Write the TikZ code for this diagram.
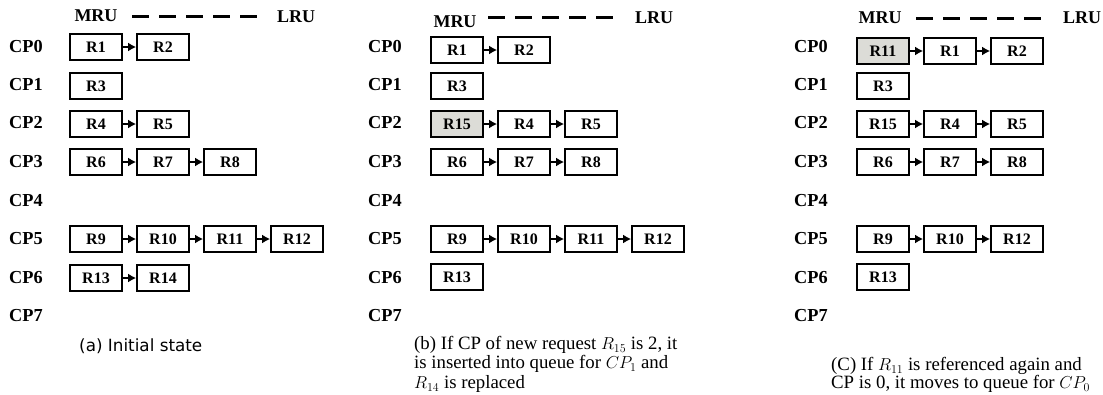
\documentclass[tikz,border=0pt]{standalone}
\usepackage{fontspec}
\setmainfont{Liberation Serif}
\newfontfamily\capsans{DejaVu Sans}
\usetikzlibrary{arrows.meta}
\definecolor{hotgray}{RGB}{220,220,215}
\begin{document}
\begin{tikzpicture}[x=1pt,y=-1pt,
  rbox/.style={draw, line width=1.8pt, minimum width=52pt, minimum height=26pt,
    inner sep=0pt, font=\fontsize{16}{16}\selectfont\bfseries},
  hot/.style={rbox, fill=hotgray},
  cp/.style={anchor=west, inner sep=0pt, font=\fontsize{18.3}{18}\selectfont\bfseries},
  ends/.style={inner sep=0pt, font=\fontsize{18}{18}\selectfont\bfseries},
  order/.style={line width=3pt, dash pattern=on 17pt off 10pt},
  link/.style={line width=1.5pt, -{Latex[length=8pt,width=9pt]}},
  capsf/.style={anchor=west, inner sep=0pt, font=\capsans\fontsize{16.8}{20}\selectfont},
  caprm/.style={anchor=north west, inner sep=0pt, align=left},
]
\useasboundingbox (0,0) rectangle (1103,394);

% ---------- (a) initial state ----------
\node[ends] (mruA) at (96,16) {MRU};
\node[ends] (lruA) at (296,17) {LRU};
\coordinate (dA1) at (132,16);
\coordinate (dA2) at (260,16);
\draw[order] (dA1) -- (dA2);

\node[cp] (cpA0) at (9,47)  {CP0};
\node[cp] (cpA1) at (9,85)  {CP1};
\node[cp] (cpA2) at (9,123) {CP2};
\node[cp] (cpA3) at (9,162) {CP3};
\node[cp] (cpA4) at (9,201) {CP4};
\node[cp] (cpA5) at (9,239) {CP5};
\node[cp] (cpA6) at (9,278) {CP6};
\node[cp] (cpA7) at (9,316) {CP7};

\node[rbox] (a1)  at (96,47)   {R1};
\node[rbox] (a2)  at (163,47)  {R2};
\node[rbox] (a3)  at (96,86)   {R3};
\node[rbox] (a4)  at (96,124)  {R4};
\node[rbox] (a5)  at (163,124) {R5};
\node[rbox] (a6)  at (96,162)  {R6};
\node[rbox] (a7)  at (163,162) {R7};
\node[rbox] (a8)  at (230,162) {R8};
\node[rbox] (a9)  at (96,239)  {R9};
\node[rbox] (a10) at (163,239) {R10};
\node[rbox] (a11) at (230,239) {R11};
\node[rbox] (a12) at (297,239) {R12};
\node[rbox] (a13) at (96,278)  {R13};
\node[rbox] (a14) at (163,278) {R14};

\draw[link] (a1) -- (a2);
\draw[link] (a4) -- (a5);
\draw[link] (a6) -- (a7);
\draw[link] (a7) -- (a8);
\draw[link] (a9) -- (a10);
\draw[link] (a10) -- (a11);
\draw[link] (a11) -- (a12);
\draw[link] (a13) -- (a14);

\node[capsf] (capA) at (79,346) {(a) Initial state};

% ---------- (b) new request inserted ----------
\node[ends] (mruB) at (455,22) {MRU};
\node[ends] (lruB) at (654,18) {LRU};
\coordinate (dB1) at (488,17);
\coordinate (dB2) at (617,17);
\draw[order] (dB1) -- (dB2);

\node[cp] (cpB0) at (368,47)  {CP0};
\node[cp] (cpB1) at (368,85)  {CP1};
\node[cp] (cpB2) at (368,123) {CP2};
\node[cp] (cpB3) at (368,162) {CP3};
\node[cp] (cpB4) at (368,201) {CP4};
\node[cp] (cpB5) at (368,239) {CP5};
\node[cp] (cpB6) at (368,278) {CP6};
\node[cp] (cpB7) at (368,316) {CP7};

\node[rbox] (b1)  at (457,50)  {R1};
\node[rbox] (b2)  at (524,50)  {R2};
\node[rbox] (b3)  at (457,86)  {R3};
\node[hot]  (b15) at (457,124) {R15};
\node[rbox] (b4)  at (524,124) {R4};
\node[rbox] (b5)  at (591,124) {R5};
\node[rbox] (b6)  at (457,162) {R6};
\node[rbox] (b7)  at (524,162) {R7};
\node[rbox] (b8)  at (591,162) {R8};
\node[rbox] (b9)  at (457,239) {R9};
\node[rbox] (b10) at (524,239) {R10};
\node[rbox] (b11) at (591,239) {R11};
\node[rbox] (b12) at (658,239) {R12};
\node[rbox] (b13) at (457,277) {R13};

\draw[link] (b1) -- (b2);
\draw[link] (b15) -- (b4);
\draw[link] (b4) -- (b5);
\draw[link] (b6) -- (b7);
\draw[link] (b7) -- (b8);
\draw[link] (b9) -- (b10);
\draw[link] (b10) -- (b11);
\draw[link] (b11) -- (b12);

\node[caprm, font=\fontsize{18.8}{19.5}\selectfont] (capB) at (414,336)
  {(b) If CP of new request $R_{15}$ is 2, it\\
   is inserted into queue for $CP_1$ and\\
   $R_{14}$ is replaced};

% ---------- (c) re-referenced request moves ----------
\node[ends] (mruC) at (880,18) {MRU};
\node[ends] (lruC) at (1082,18) {LRU};
\coordinate (dC1) at (916,18);
\coordinate (dC2) at (1045,18);
\draw[order] (dC1) -- (dC2);

\node[cp] (cpC0) at (794,47)  {CP0};
\node[cp] (cpC1) at (794,85)  {CP1};
\node[cp] (cpC2) at (794,123) {CP2};
\node[cp] (cpC3) at (794,162) {CP3};
\node[cp] (cpC4) at (794,201) {CP4};
\node[cp] (cpC5) at (794,239) {CP5};
\node[cp] (cpC6) at (794,278) {CP6};
\node[cp] (cpC7) at (794,316) {CP7};

\node[hot]  (c11) at (883,51)   {R11};
\node[rbox] (c1)  at (950,51)   {R1};
\node[rbox] (c2)  at (1017,51)  {R2};
\node[rbox] (c3)  at (883,86)   {R3};
\node[rbox] (c15) at (883,124)  {R15};
\node[rbox] (c4)  at (950,124)  {R4};
\node[rbox] (c5)  at (1017,124) {R5};
\node[rbox] (c6)  at (883,162)  {R6};
\node[rbox] (c7)  at (950,162)  {R7};
\node[rbox] (c8)  at (1017,162) {R8};
\node[rbox] (c9)  at (883,239)  {R9};
\node[rbox] (c10) at (950,239)  {R10};
\node[rbox] (c12) at (1017,239) {R12};
\node[rbox] (c13) at (883,277)  {R13};

\draw[link] (c11) -- (c1);
\draw[link] (c1) -- (c2);
\draw[link] (c15) -- (c4);
\draw[link] (c4) -- (c5);
\draw[link] (c6) -- (c7);
\draw[link] (c7) -- (c8);
\draw[link] (c9) -- (c10);
\draw[link] (c10) -- (c12);

\node[caprm, font=\fontsize{18.8}{18.5}\selectfont] (capC) at (831,357)
  {(C) If $R_{11}$ is referenced again and\\
   CP is 0, it moves to queue for $CP_0$};
\end{tikzpicture}
\end{document}
